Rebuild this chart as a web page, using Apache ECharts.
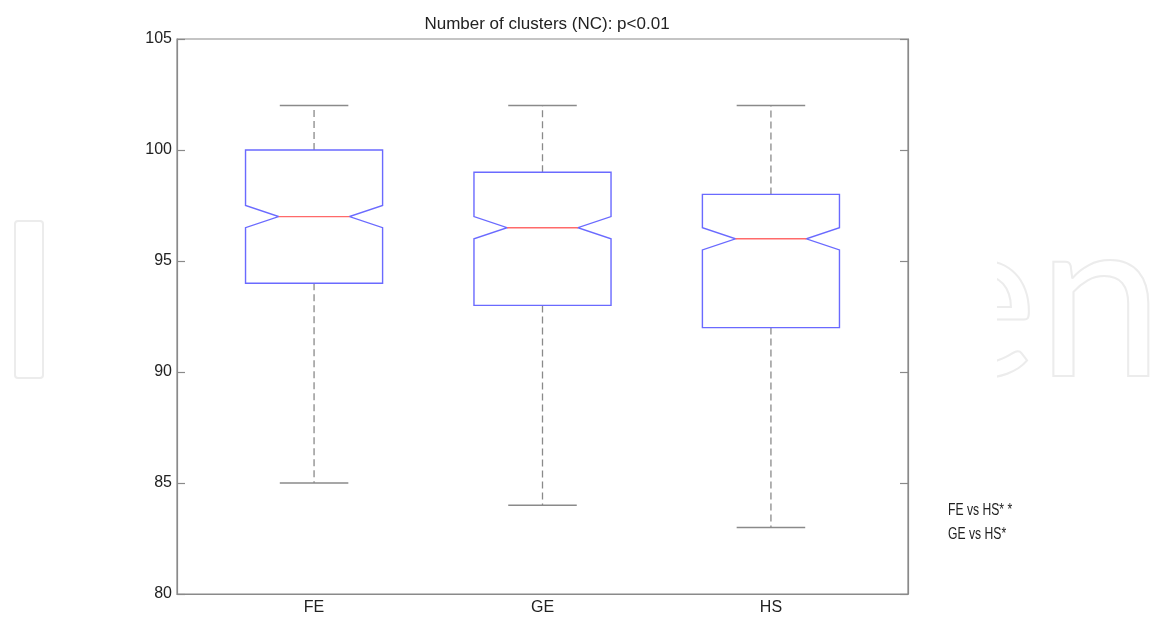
<!DOCTYPE html>
<html>
<head>
<meta charset="utf-8">
<script src="https://cdn.jsdelivr.net/npm/echarts@6/dist/echarts.min.js"></script>
<style>html,body{margin:0;padding:0;background:#fff}#c{width:1150px;height:617px}</style>
</head>
<body>
<div id="c"></div>
<script>
// ---- data ----
var categories = ['FE', 'GE', 'HS'];
var whiskerLow  = [85, 84, 83];
var q1          = [94, 93, 92];
var notchLow    = [96.5, 96, 95.5];
var median      = [97, 96.5, 96];
var notchHigh   = [97.5, 97, 96.5];
var q3          = [100, 99, 98];
var whiskerHigh = [102, 102, 102];
var yTicks = [80, 85, 90, 95, 100, 105];
var titleText = 'Number of clusters (NC): p<0.01';
var notes = ['FE vs HS* *', 'GE vs HS*'];

var seriesData = categories.map(function (c, i) {
  return [i + 1, whiskerLow[i], q1[i], notchLow[i], median[i], notchHigh[i], q3[i], whiskerHigh[i]];
});

var BOX_HALF = 0.3, NOTCH_IN = 0.145, CAP_HALF = 0.15;
var BLUE = '#6a6aff', RED = '#ff6a6a', GREY = '#8a8a8a';
var FONT = '"Liberation Sans", Arial, Helvetica, sans-serif';

function renderItem(params, api) {
  var x = api.value(0);
  var wl = api.value(1), a = api.value(2), nl = api.value(3), m = api.value(4),
      nh = api.value(5), b = api.value(6), wh = api.value(7);
  function P(dx, v) { return api.coord([x + dx, v]); }
  var poly = [
    P(-BOX_HALF, a), P(BOX_HALF, a), P(BOX_HALF, nl), P(BOX_HALF - NOTCH_IN, m),
    P(BOX_HALF, nh), P(BOX_HALF, b), P(-BOX_HALF, b), P(-BOX_HALF, nh),
    P(-BOX_HALF + NOTCH_IN, m), P(-BOX_HALF, nl)
  ];
  function line(p1, p2, style) {
    return { type: 'line', shape: { x1: p1[0], y1: p1[1], x2: p2[0], y2: p2[1] }, style: style };
  }
  var dash = { stroke: GREY, lineWidth: 1.3, lineDash: [7, 4] };
  var solid = { stroke: GREY, lineWidth: 1.5 };
  return {
    type: 'group',
    children: [
      line(P(0, b), P(0, wh), dash),
      line(P(0, a), P(0, wl), dash),
      line(P(-CAP_HALF, wh), P(CAP_HALF, wh), solid),
      line(P(-CAP_HALF, wl), P(CAP_HALF, wl), solid),
      { type: 'polygon', shape: { points: poly }, style: { fill: 'none', stroke: BLUE, lineWidth: 1.4 } },
      line(P(-BOX_HALF + NOTCH_IN, m), P(BOX_HALF - NOTCH_IN, m), { stroke: RED, lineWidth: 1.4 })
    ]
  };
}

var chart = echarts.init(document.getElementById('c'), null, { renderer: 'canvas' });
var axisFont = { fontFamily: FONT, fontSize: 16, color: '#222' };

var option = {
  backgroundColor: '#fff',
  animation: false,
  title: {
    text: titleText, left: 542, top: 11, textAlign: 'center',
    textStyle: { fontFamily: FONT, fontSize: 17, fontWeight: 'normal', color: '#222' }
  },
  grid: {
    left: 177, right: 242, top: 39, bottom: 23, show: true,
    backgroundColor: '#fff', borderColor: GREY, borderWidth: 1.2
  },
  xAxis: {
    type: 'value', min: 0.4, max: 3.6,
    splitLine: { show: false },
    axisLine: { show: true, lineStyle: { color: GREY, width: 1.2 } },
    axisTick: { show: false },
    axisLabel: Object.assign({
      customValues: [1, 2, 3], margin: 6,
      formatter: function (v) { return categories[Math.round(v) - 1] || ''; }
    }, axisFont)
  },
  yAxis: [
    {
      type: 'value', min: 80, max: 105, interval: 5, position: 'left',
      splitLine: { show: false },
      axisLine: { show: true, lineStyle: { color: GREY, width: 1.2 } },
      axisTick: { show: true, inside: true, length: 8, lineStyle: { color: GREY, width: 1.2 } },
      axisLabel: Object.assign({ margin: 5, formatter: function (v) { return yTicks.indexOf(v) >= 0 ? String(v) : ''; } }, axisFont)
    },
    {
      type: 'value', min: 80, max: 105, interval: 5, position: 'right',
      splitLine: { show: false },
      axisLine: { show: true, lineStyle: { color: GREY, width: 1.2 } },
      axisTick: { show: true, inside: true, length: 8, lineStyle: { color: GREY, width: 1.2 } },
      axisLabel: { show: false }
    }
  ],
  graphic: [
    // faint watermark outline
    { type: 'rect', z: -5, shape: { x: 15, y: 221, width: 28, height: 157, r: 3 },
      style: { fill: 'none', stroke: '#ececec', lineWidth: 2 } },
    { type: 'text', z: -6, x: 1163, y: 416,
      style: { text: 'en', fontFamily: 'Lato, "Open Sans", sans-serif', fontSize: 225,
               textAlign: 'right', textVerticalAlign: 'bottom',
               fill: 'none', stroke: '#ececec', lineWidth: 2 } },
    { type: 'rect', z: -4, shape: { x: 909, y: 150, width: 88, height: 300 },
      style: { fill: '#fff', stroke: null } },
    // annotations
    { type: 'text', z: 10, x: 948, y: 503, scaleX: 0.76,
      style: { text: notes[0], fontFamily: FONT, fontSize: 16, fill: '#222' } },
    { type: 'text', z: 10, x: 948, y: 527, scaleX: 0.76,
      style: { text: notes[1], fontFamily: FONT, fontSize: 16, fill: '#222' } }
  ],
  series: [{
    type: 'custom',
    renderItem: renderItem,
    encode: { x: 0, y: [1, 2, 3, 4, 5, 6, 7] },
    data: seriesData,
    z: 3
  }]
};
chart.setOption(option);
</script>
</body>
</html>
